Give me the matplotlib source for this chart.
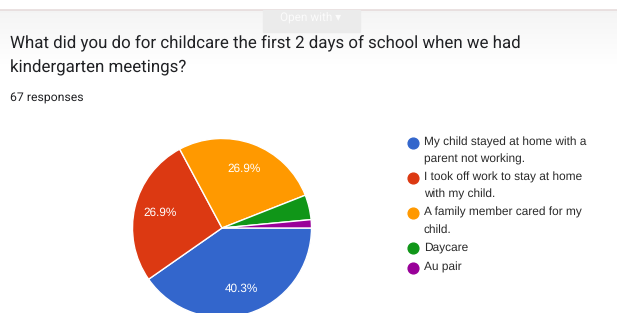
import numpy as np
import matplotlib.pyplot as plt

plt.rcParams["text.hinting"] = "no_hinting"

# survey answers (67 responses)
answers = ["My child stayed at home with a\nparent not working.",
           "I took off work to stay at home\nwith my child.",
           "A family member cared for my\nchild.",
           "Daycare",
           "Au pair"]
counts = [27, 18, 18, 3, 1]
colors = ["#3366cc", "#dc3912", "#ff9900", "#109618", "#990099"]
legend_y = [143, 178, 213, 248, 268]   # pixel rows of legend entries

W, H = 617, 313
fig = plt.figure(figsize=(W / 100, H / 100), dpi=100)
ax = fig.add_axes([0, 0, 1, 1])
ax.set_xlim(0, W)
ax.set_ylim(0, H)
ax.set_aspect("equal")
ax.axis("off")

# faint header gradient + "Open with" button
grad = np.linspace(0.955, 1.0, 60).reshape(-1, 1)
ax.imshow(grad, cmap="gray", vmin=0, vmax=1, extent=(0, W, H - 70, H - 10),
          aspect="auto", zorder=0)
ax.plot([0, W], [H - 10, H - 10], color="#e6dcdc", lw=1.2, zorder=1)
ax.add_patch(plt.Rectangle((263, H - 32), 97, 22, color="#ebebeb", zorder=1))
ax.text(311, H - 17, "Open with \u25be", color="#fbfbfb", fontsize=8.5,
        family=["Roboto", "DejaVu Sans"], ha="center", va="center", zorder=2)

ax.text(10, H - 44, "What did you do for childcare the first 2 days of school when we had",
        fontsize=12.2, family="Roboto", color="#202124", va="center")
ax.text(10, H - 68, "kindergarten meetings?", fontsize=12.2, family="Roboto",
        color="#202124", va="center")
ax.text(10, H - 97, "67 responses", fontsize=8.8, family="Roboto", color="#202124",
        va="center")

def pct_label(p):
    return f"{p:.1f}%" if p > 5 else ""

wedges, texts, autotexts = ax.pie(counts, colors=colors, startangle=0, counterclock=False,
                                  center=(222, H - 228), radius=89.5,
                                  autopct=pct_label, pctdistance=0.71,
                                  wedgeprops=dict(edgecolor="white", linewidth=1),
                                  textprops=dict(color="white", fontsize=8.5,
                                                 family="Liberation Sans"))
ax.set_xlim(0, W)
ax.set_ylim(0, H)
ax.axis("off")

for lab, c, y in zip(answers, colors, legend_y):
    ax.scatter([413], [H - y], s=60, color=c, zorder=3)
    ax.text(424, H - y + 6.5, lab, fontsize=8.6, family="Liberation Sans",
            color="#2a2a2a", va="top", linespacing=1.75)

fig.savefig("out.png", dpi=100)
